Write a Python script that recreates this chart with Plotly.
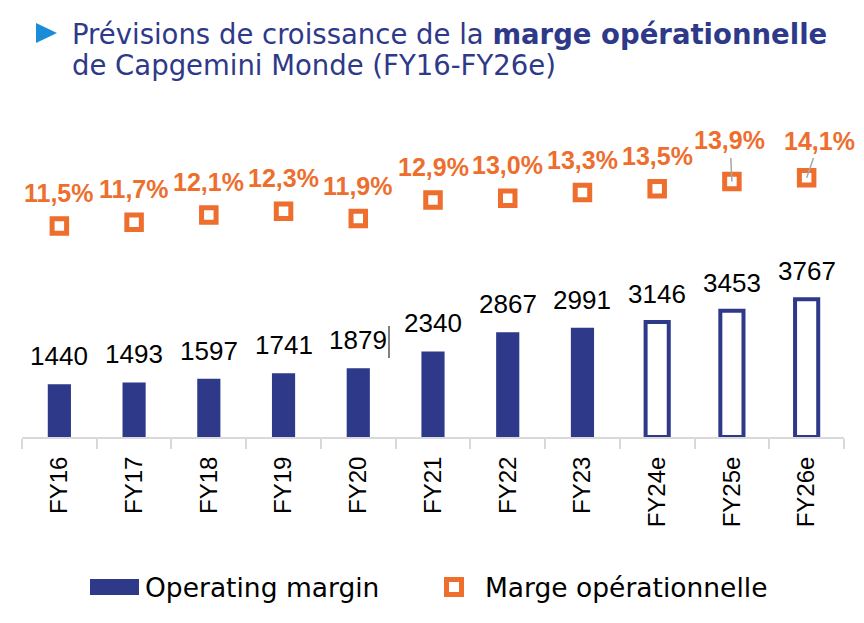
import plotly.graph_objects as go

# ---------------- data ----------------
categories = ["FY16", "FY17", "FY18", "FY19", "FY20", "FY21", "FY22", "FY23", "FY24e", "FY25e", "FY26e"]
operating_margin = [1440, 1493, 1597, 1741, 1879, 2340, 2867, 2991, 3146, 3453, 3767]
margin_pct = [11.5, 11.7, 12.1, 12.3, 11.9, 12.9, 13.0, 13.3, 13.5, 13.9, 14.1]
is_estimate = [False, False, False, False, False, False, False, False, True, True, True]
pct_labels = [f"{v:.1f}".replace(".", ",") + "%" for v in margin_pct]
bar_labels = [str(v) for v in operating_margin]

title_line1 = "Prévisions de croissance de la <b>marge opérationnelle</b>"
title_line2 = "de Capgemini Monde (FY16-FY26e)"
legend_bar = "Operating margin"
legend_marker = "Marge opérationnelle"

# ---------------- style ----------------
BLUE = "#2E3989"
ORANGE = "#ED6E2D"
TRI_BLUE = "#1A8CD8"
GRAY_AXIS = "#D9D9D9"
GRAY_LEADER = "#A6A6A6"

W, H = 864, 623
L, R, T, B = 22, 844, 120, 437          # plot area in pixels


def px(x):
    return (x - L) / (R - L)


def py(y):
    return (B - y) / (B - T)


fig = go.Figure()

fig.add_trace(go.Bar(
    x=categories, y=operating_margin, name=legend_bar,
    width=0.31,
    marker=dict(
        color=["white" if e else BLUE for e in is_estimate],
        line=dict(color=BLUE, width=[4 if e else 0 for e in is_estimate]),
    ),
    showlegend=False, hoverinfo="x+y",
))

fig.add_trace(go.Scatter(
    x=categories, y=margin_pct, yaxis="y2", mode="markers", name=legend_marker,
    marker=dict(symbol="square", size=14.5, color="white",
                line=dict(color=ORANGE, width=5)),
    showlegend=False, cliponaxis=False,
))

annotations = []
# bar value labels
for c, v, lab in zip(categories, operating_margin, bar_labels):
    annotations.append(dict(
        x=c, y=v, xref="x", yref="y", text=lab, showarrow=False,
        yanchor="bottom", yshift=11,
        font=dict(family="Liberation Sans, Arial", size=26, color="black"),
    ))

# percentage labels
leader = {9: (-2, -41), 10: (13, -37)}
for i, (c, v, lab) in enumerate(zip(categories, margin_pct, pct_labels)):
    f = dict(family="Liberation Sans, Arial", size=25, color=ORANGE)
    if i in leader:
        ax, ay = leader[i]
        annotations.append(dict(
            x=c, y=v, xref="x", yref="y2", text=f"<b>{lab}</b>", showarrow=True,
            ax=ax, ay=ay, arrowhead=0, arrowwidth=1.5, arrowcolor=GRAY_LEADER,
            standoff=0, startstandoff=2, font=f,
        ))
    else:
        annotations.append(dict(
            x=c, y=v, xref="x", yref="y2", text=f"<b>{lab}</b>", showarrow=False,
            yanchor="bottom", yshift=17, font=f,
        ))

# title
title_font = dict(family="DejaVu Sans", size=27.5, color=BLUE)
annotations.append(dict(x=px(70), y=py(34), xref="paper", yref="paper", text=title_line1,
                        showarrow=False, xanchor="left", yanchor="middle", font=title_font))
annotations.append(dict(x=px(70), y=py(65), xref="paper", yref="paper", text=title_line2,
                        showarrow=False, xanchor="left", yanchor="middle", font=title_font))

# custom legend
leg_font = dict(family="DejaVu Sans", size=26.5, color="black")
annotations.append(dict(x=px(143), y=py(587), xref="paper", yref="paper", text=legend_bar,
                        showarrow=False, xanchor="left", yanchor="middle", font=leg_font))
annotations.append(dict(x=px(483), y=py(587), xref="paper", yref="paper", text=legend_marker,
                        showarrow=False, xanchor="left", yanchor="middle", font=leg_font))

shapes = [
    # title triangle
    dict(type="path", xref="paper", yref="paper",
         path=f"M {px(36)},{py(23)} L {px(57)},{py(33)} L {px(36)},{py(43)} Z",
         fillcolor=TRI_BLUE, line=dict(width=0)),
    # legend: bar swatch
    dict(type="rect", xref="paper", yref="paper",
         x0=px(90), x1=px(139), y0=py(579), y1=py(595),
         fillcolor=BLUE, line=dict(width=0)),
    # legend: marker swatch
    dict(type="rect", xref="paper", yref="paper",
         x0=px(446.5), x1=px(461.5), y0=py(579.5), y1=py(594.5),
         fillcolor="white", line=dict(color=ORANGE, width=5)),
    # text cursor artefact next to "1879"
    dict(type="line", xref="paper", yref="paper",
         x0=px(389), x1=px(389), y0=py(326), y1=py(358),
         line=dict(color="black", width=1)),
]

fig.update_layout(
    width=W, height=H,
    margin=dict(l=L, r=W - R, t=T, b=H - B),
    paper_bgcolor="white", plot_bgcolor="white",
    bargap=0.69,
    xaxis=dict(
        type="category", range=[-0.5, len(categories) - 0.5],
        showline=True, linecolor=GRAY_AXIS, linewidth=2,
        ticks="outside", tickson="boundaries", ticklen=10, tickwidth=2, tickcolor=GRAY_AXIS,
        tickangle=-90, showgrid=False, zeroline=False, ticklabelstandoff=8,
        tickfont=dict(family="Liberation Sans, Arial", size=24, color="black"),
    ),
    yaxis=dict(visible=False, range=[0, (B - T) * 27.36], fixedrange=True),
    yaxis2=dict(visible=False, overlaying="y", range=[(439.7 - B) / 18.58, (439.7 - T) / 18.58]),
    annotations=annotations,
    shapes=shapes,
    showlegend=False,
)

fig.write_html("out.html", config={"displayModeBar": False},
               post_script="document.body.style.margin='0';")
